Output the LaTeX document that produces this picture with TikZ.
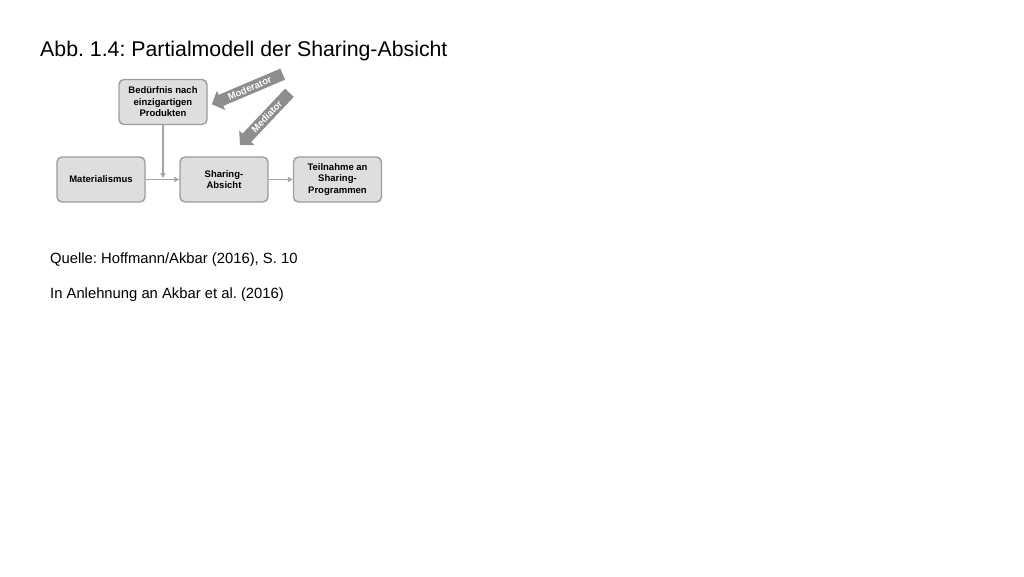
\documentclass[tikz,border=0pt]{standalone}
\usepackage{fontspec}
\setmainfont{Liberation Sans}
\frenchspacing
\usepackage{tikz}
\usetikzlibrary{arrows.meta}
\definecolor{boxfill}{HTML}{DEDEDE}
\definecolor{boxline}{HTML}{9C9C9C}
\definecolor{linkgray}{HTML}{A4A4A4}
\definecolor{flaggray}{HTML}{8E8E8E}
\tikzstyle{box}      = [draw=boxline,line width=1.4pt,fill=boxfill,rounded corners=5pt,
                        minimum width=88pt,minimum height=45pt,align=center,
                        font=\fontsize{9.5}{11.5}\selectfont\bfseries]
\tikzstyle{link}     = [draw=linkgray,line width=1.4pt,-{Triangle[length=5pt,width=5pt]}]
\tikzstyle{flagtext} = [text=white,inner sep=0pt,font=\fontsize{9.5}{11}\selectfont\bfseries]
\tikzstyle{plain}    = [anchor=base west,inner sep=0pt]

\begin{document}
\begin{tikzpicture}[x=1pt,y=-1pt]
          \useasboundingbox (0,0) rectangle (1024,576);
          \node[plain,font=\fontsize{21.3}{25}\selectfont](title)at(40, 56){Abb. 1.4: Partialmodell der Sharing-Absicht};
          \node[box](bed)at(163, 102){Bedürfnis nach\\einzigartigen\\Produkten};
          \node[box](mat)at(101, 179.5){Materialismus};
          \node[box](sha)at(224, 179.5){Sharing-\\Absicht};
          \node[box](tei)at(337.5, 179.5){Teilnahme an\\Sharing-\\Programmen};
          \coordinate(j)at(163, 179.5);
          \draw[link](mat)--(sha);
          \draw[link,shorten >=1.5pt](bed)--(j);
          \draw[link](sha)--(tei);
          % block arrows
          \begin{scope}[shift={(247.3, 89.2)},rotate=23,transform shape]
              \fill[flaggray](-38.5, 0)--(-28.5, 10.5)--(-28.5, 6)--(38.5, 6)--(38.5, -6)--(-28.5, -6)--(-28.5, -10.5)--cycle;
              \node[flagtext](mod)at(2.5, 0){Moderator};
          \end{scope}
          \begin{scope}[shift={(264.7, 118.9)},rotate=46.6,transform shape]
              \fill[flaggray](-36, 0)--(-26, 10.5)--(-26, 6)--(36, 6)--(36, -6)--(-26, -6)--(-26, -10.5)--cycle;
              \node[flagtext](med)at(3, 0){Mediator};
          \end{scope}
          \node[plain,font=\fontsize{14.8}{18}\selectfont](src)at(50, 263){Quelle: Hoffmann/Akbar (2016), S. 10};
          \node[plain,font=\fontsize{14.8}{18}\selectfont](ref)at(50, 298.5){In Anlehnung an Akbar et al. (2016)};
      \end{tikzpicture}
\end{document}
